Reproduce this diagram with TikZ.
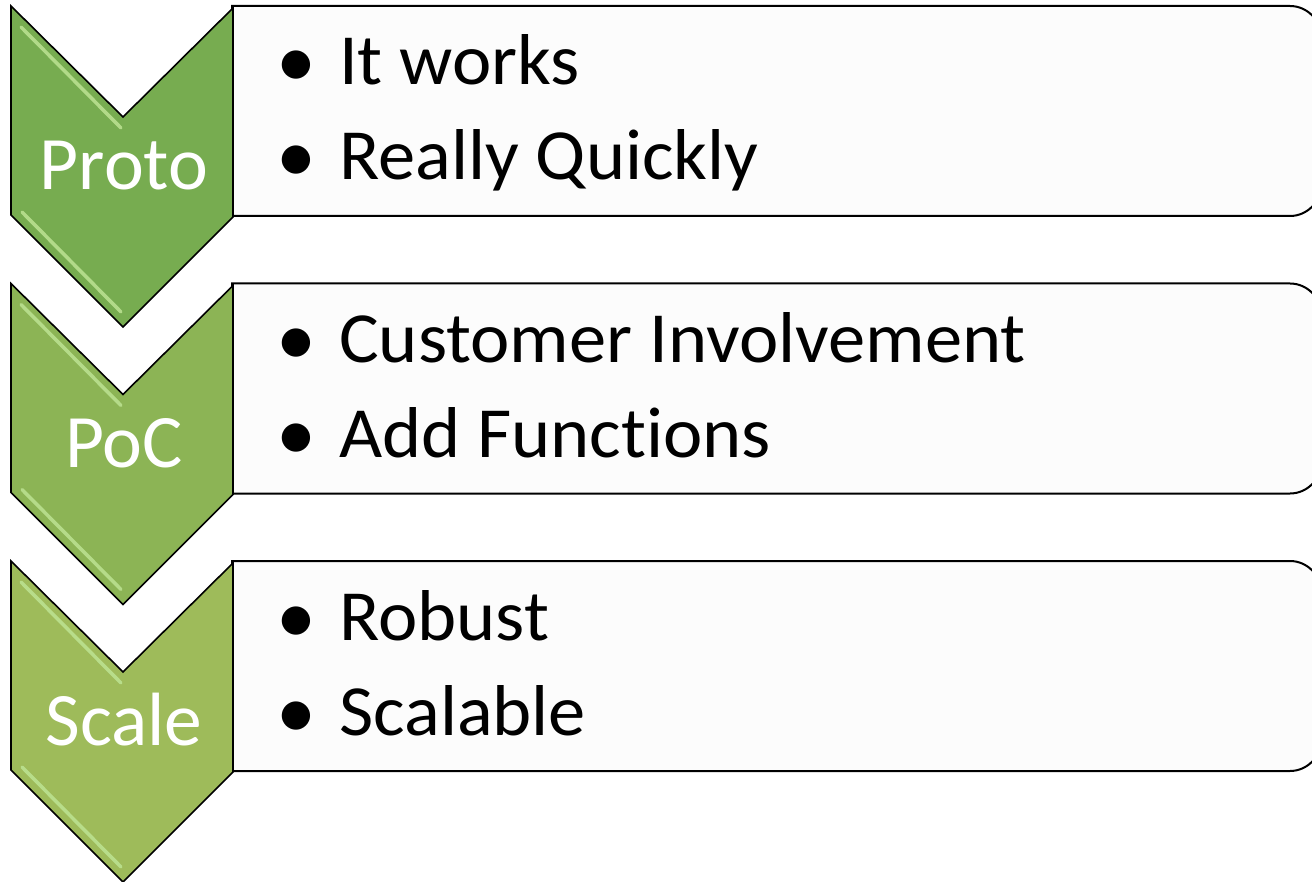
\documentclass[tikz,border=0pt]{standalone}
\usepackage{fontspec}
\setmainfont[Ligatures=NoCommon]{Carlito}
\newfontfamily\itemfont[Ligatures=NoCommon,FakeStretch=1.035]{Carlito}
\definecolor{gA}{HTML}{77AC50}
\definecolor{gB}{HTML}{8CB455}
\definecolor{gC}{HTML}{9EBB5A}
\definecolor{hiA}{HTML}{BDE393}
\definecolor{boxfill}{HTML}{FCFCFC}
\tikzset{
  chevshape/.style={draw=black, line width=1.6pt, line join=miter},
  hiline/.style={draw=hiA, line width=3.5pt, line cap=round, opacity=0.85},
  itembox/.style={draw=black, line width=2pt, fill=boxfill},
  chevlabel/.style={text=white, font=\fontsize{75.5}{75.5}\selectfont, anchor=base, inner sep=0pt},
  itemtext/.style={text=black, font=\itemfont\fontsize{72}{72}\selectfont, anchor=base west, inner sep=0pt},
  bullettext/.style={text=black, font=\fontsize{80}{80}\selectfont, anchor=base, inner sep=0pt}
}
\begin{document}
\begin{tikzpicture}[x=1pt,y=-1pt]
\useasboundingbox (0,0) rectangle (1312,882);
\clip (0,0) rectangle (1312,882);
\fill[white] (0,0) rectangle (1312,882);
\foreach \i/\yo/\col/\lab/\itemA/\itemB in {
  1/6/gA/Proto/It works/Really Quickly,
  2/283.5/gB/PoC/Customer Involvement/Add Functions,
  3/561/gC/Scale/Robust/Scalable}{
  \pgfmathsetmacro{\yt}{\yo}
  \pgfmathsetmacro{\yb}{\yo+210}
  % text box
  \draw[itembox] (232,\yt) -- (1290,\yt)
     .. controls (1307,\yt) and (1321,\yt+14) .. (1321,\yt+31)
     -- (1321,\yb-31)
     .. controls (1321,\yb-14) and (1307,\yb) .. (1290,\yb)
     -- (232,\yb) -- cycle;
  % chevron
  \draw[chevshape, fill=\col] (11,\yo) -- (123,\yo+111) -- (233,\yo+2)
     -- (233,\yo+211) -- (123,\yo+321) -- (11,\yo+209) -- cycle;
  \draw[hiline] (21,\yo+21) -- (121,\yo+122);
  \draw[hiline] (22,\yo+206) -- (121,\yo+306);
  % labels
  \node[chevlabel] (lab\i) at (124,\yo+184) {\lab};
  \node[bullettext] (bua\i) at (296,\yo+82) {•};
  \node[itemtext] (ita\i) at (339,\yo+79) {\itemA};
  \node[bullettext] (bub\i) at (296,\yo+177) {•};
  \node[itemtext] (itb\i) at (339,\yo+174) {\itemB};
}
\end{tikzpicture}
\end{document}
